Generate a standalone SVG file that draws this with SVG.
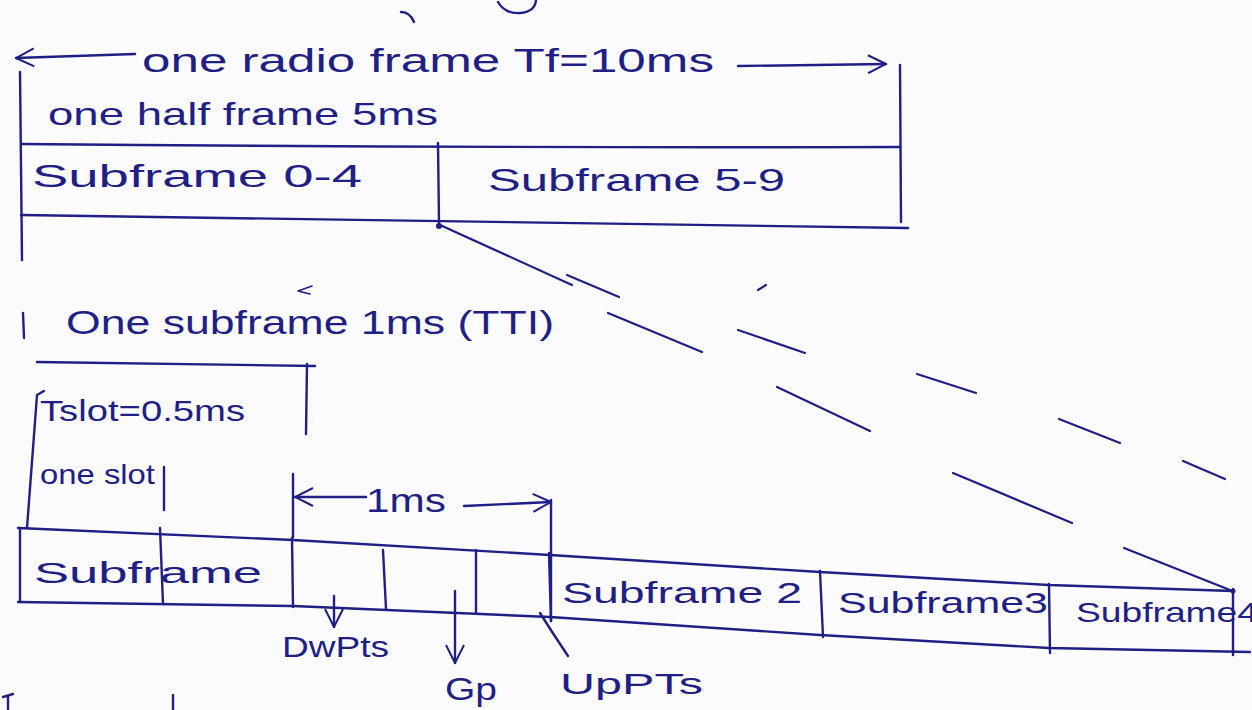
<svg xmlns="http://www.w3.org/2000/svg" width="1252" height="710" viewBox="0 0 1252 710">
<defs>
<marker id="arrBig" viewBox="0 0 20 20" refX="19" refY="10" markerWidth="20" markerHeight="20" markerUnits="userSpaceOnUse" orient="auto">
<path d="M1,1 L19,10 L1,19" fill="none" stroke="#1f1f85" stroke-width="2"/>
</marker>
<style>
.ink{fill:none;stroke:#1f1f85;stroke-width:2.4;stroke-linecap:round;stroke-linejoin:round}
.dash{fill:none;stroke:#1f1f85;stroke-width:2.2;stroke-linecap:round}
.t{font-family:"Liberation Sans","DejaVu Sans",sans-serif;fill:#1f1f85}
</style>
</defs>
<rect width="1252" height="710" fill="#fbfbfe"/>

<g id="fragments">
<path class="ink" d="M498,2 Q505,14 520,13 Q535,12 536,0"/>
<path class="ink" d="M401,12 Q410,12 414,22"/>
<path class="ink" d="M3,697 L13,694 M8,696 L8,710"/>
<path class="ink" d="M173,695 L173,710"/>
<path class="ink" d="M312,286 L298,291 L310,294" style="stroke-width:1.6"/>
</g>

<g id="radio-frame">
<path class="ink" d="M20,72 L22,260"/>
<path class="ink" d="M900,65 L901,222"/>
<path class="ink" d="M21,144 Q450,148 900,147"/>
<path class="ink" d="M21,215 Q450,222 908,228"/>
<text class="t" x="142" y="72" font-size="34" textLength="572" lengthAdjust="spacingAndGlyphs">one radio frame Tf=10ms</text>
<text class="t" x="48" y="125" font-size="32" textLength="390" lengthAdjust="spacingAndGlyphs">one half frame 5ms</text>
</g>

<g id="subframe-0-4">
<text class="t" x="32" y="187" font-size="32" textLength="330" lengthAdjust="spacingAndGlyphs">Subframe 0-4</text>
</g>

<g id="subframe-5-9">
<path class="ink" d="M438,143 L439,224"/>
<circle cx="439" cy="226" r="3" fill="#1f1f85"/>
<text class="t" x="488" y="191" font-size="32" textLength="297" lengthAdjust="spacingAndGlyphs">Subframe 5-9</text>
</g>

<g id="subframe-label">
<path class="ink" d="M23,313 L24,338"/>
<text class="t" x="66" y="334" font-size="34" textLength="488" lengthAdjust="spacingAndGlyphs">One subframe 1ms (TTI)</text>
<path class="ink" d="M37,362 L315,366"/>
<path class="ink" d="M307,364 L306,434"/>
</g>

<g id="slot">
<path class="ink" d="M44,391 L37,395 L27,528"/>
<text class="t" x="40" y="421" font-size="30" textLength="205" lengthAdjust="spacingAndGlyphs">Tslot=0.5ms</text>
<text class="t" x="40" y="484" font-size="28" textLength="115" lengthAdjust="spacingAndGlyphs">one slot</text>
<path class="ink" d="M164,467 L164,510"/>
</g>

<g id="subframe-row">
<path class="ink" d="M18,528 L293,540 L550,555 L820,572 L1049,585 L1233,591"/>
<path class="ink" d="M18,602 L293,606 L550,617 L820,635 L1049,648 L1250,652"/>
<path class="ink" d="M20,528 L20,602"/>
<path class="ink" d="M160,528 L163,604"/>
<path class="ink" d="M292,538 L293,607"/>
<path class="ink" d="M383,550 L386,609"/>
<path class="ink" d="M476,550 L476,613"/>
<path class="ink" d="M549,553 L551,621"/>
<path class="ink" d="M820,571 L823,637"/>
<path class="ink" d="M1049,584 L1050,653"/>
<path class="ink" d="M1233,589 L1233,655"/>
<circle cx="1233" cy="591" r="2.5" fill="#1f1f85"/>
</g>

<g id="subframe-0"><text class="t" x="34" y="583" font-size="30" textLength="228" lengthAdjust="spacingAndGlyphs">Subframe</text></g>
<g id="subframe-2"><text class="t" x="562" y="603" font-size="30" textLength="240" lengthAdjust="spacingAndGlyphs">Subframe 2</text></g>
<g id="subframe-3"><text class="t" x="838" y="613" font-size="30" textLength="210" lengthAdjust="spacingAndGlyphs">Subframe3</text></g>
<g id="subframe-4"><text class="t" x="1076" y="622" font-size="28" textLength="182" lengthAdjust="spacingAndGlyphs">Subframe4</text></g>

<g id="dwpts"><text class="t" x="282" y="657" font-size="30" textLength="107" lengthAdjust="spacingAndGlyphs">DwPts</text></g>
<g id="gp"><text class="t" x="445" y="700" font-size="32" textLength="52" lengthAdjust="spacingAndGlyphs">Gp</text></g>
<g id="uppts"><text class="t" x="560" y="694" font-size="30" textLength="143" lengthAdjust="spacingAndGlyphs">UpPTs</text></g>

<g id="dim-1ms">
<path class="ink" d="M293,474 L293,537"/>
<path class="ink" d="M551,500 L551,621"/>
<text class="t" x="366" y="512" font-size="34" textLength="80" lengthAdjust="spacingAndGlyphs">1ms</text>
</g>

<g id="connectors">
<line class="ink" x1="135" y1="54" x2="16" y2="58" marker-end="url(#arrBig)"/>
<line class="ink" x1="738" y1="66" x2="886" y2="64" marker-end="url(#arrBig)"/>
<line class="ink" x1="366" y1="497" x2="295" y2="497" marker-end="url(#arrBig)"/>
<line class="ink" x1="464" y1="506" x2="551" y2="502" marker-end="url(#arrBig)"/>
<line class="ink" x1="334" y1="596" x2="334" y2="627" marker-end="url(#arrBig)"/>
<line class="ink" x1="455" y1="591" x2="455" y2="663" marker-end="url(#arrBig)"/>
<path class="ink" d="M540,613 Q552,632 568,656"/>
<line class="dash" x1="440" y1="225" x2="572" y2="285"/>
<line class="dash" x1="608" y1="313" x2="702" y2="352"/>
<line class="dash" x1="777" y1="387" x2="870" y2="431"/>
<line class="dash" x1="953" y1="473" x2="1072" y2="523"/>
<line class="dash" x1="1124" y1="548" x2="1230" y2="590"/>
<line class="dash" x1="567" y1="275" x2="619" y2="297"/>
<line class="dash" x1="738" y1="330" x2="805" y2="353"/>
<line class="dash" x1="917" y1="374" x2="976" y2="393"/>
<line class="dash" x1="1059" y1="419" x2="1120" y2="443"/>
<line class="dash" x1="1183" y1="461" x2="1225" y2="479"/>
<line class="dash" x1="758" y1="290" x2="766" y2="285"/>
</g>
</svg>
